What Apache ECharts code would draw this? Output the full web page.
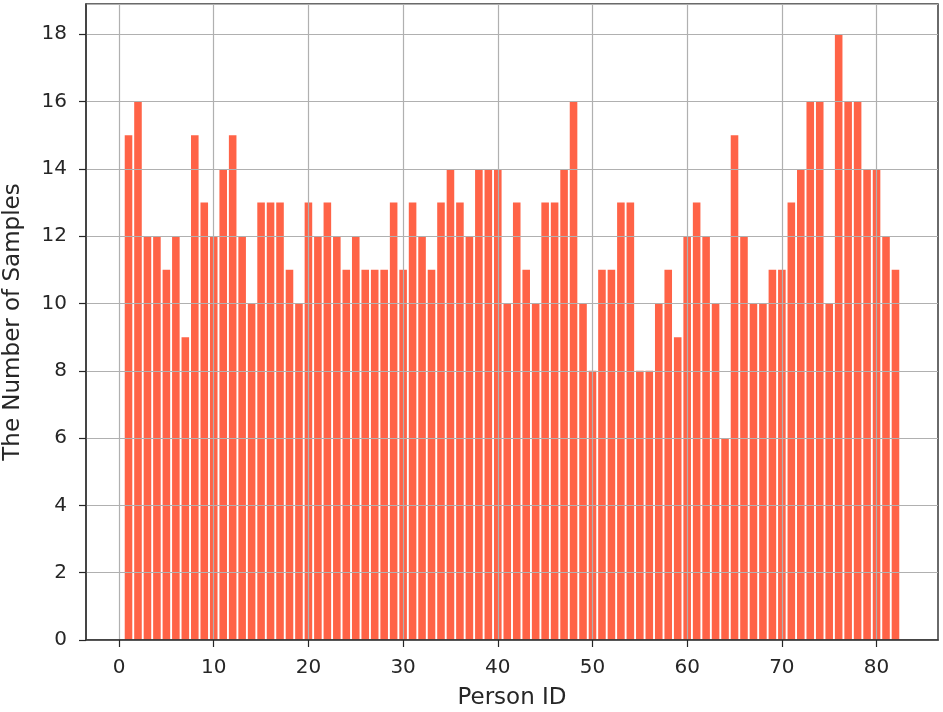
<!DOCTYPE html>
<html>
<head>
<meta charset="utf-8">
<script src="https://cdn.jsdelivr.net/npm/echarts@6/dist/echarts.min.js"></script>
<style>html,body{margin:0;padding:0;background:#fff;}#c{width:943px;height:712px;}</style>
</head>
<body>
<div id="c"></div>
<script>
const personIds = [];
for (let i = 1; i <= 82; i++) personIds.push(i);
const sampleCounts = [15,16,12,12,11,12,9,15,13,12,14,15,12,10,13,13,13,11,10,13,
  12,13,12,11,12,11,11,11,13,11,13,12,11,13,14,13,12,14,14,14,
  10,13,11,10,13,13,14,16,10,8,11,11,13,13,8,8,10,11,9,12,
  13,12,10,6,15,12,10,10,11,11,13,14,16,16,10,18,16,16,14,14,
  12,11];
const xTicks = [0,10,20,30,40,50,60,70,80];

const xMin = -3.49, xMax = 86.49, yMax = 18.9;
const gridL = 86, gridR = 5, gridT = 4, gridB = 72;
const barPx = (943 - gridL - gridR) / (xMax - xMin) * 0.8;

const chart = echarts.init(document.getElementById('c'));
const font = 'DejaVu Sans';
const ink = '#262626';
chart.setOption({
  animation: false,
  backgroundColor: '#fff',
  grid: {left: gridL, right: gridR, top: gridT, bottom: gridB, containLabel: false, outerBoundsMode: 'none', show: true, borderColor: '#3a3a3a', borderWidth: 1.5, backgroundColor: 'transparent', z: 10},
  xAxis: {
    type: 'value', min: xMin, max: xMax, z: 10,
    name: 'Person ID', nameLocation: 'middle', nameGap: 47,
    nameTextStyle: {fontFamily: font, fontSize: 23, color: ink},
    axisLine: {show: true, onZero: false, lineStyle: {color: '#3a3a3a', width: 1.5}},
    axisTick: {show: true, length: 7, customValues: xTicks, lineStyle: {color: ink, width: 1.2}},
    axisLabel: {customValues: xTicks, fontFamily: font, fontSize: 20, color: ink, margin: 18},
    splitLine: {show: false}
  },
  yAxis: {
    type: 'value', min: 0, max: yMax, interval: 2, z: 10,
    name: 'The Number of Samples', nameLocation: 'middle', nameGap: 61,
    nameTextStyle: {fontFamily: font, fontSize: 23, color: ink},
    axisLine: {show: true, onZero: false, lineStyle: {color: '#3a3a3a', width: 1.5}},
    axisTick: {show: true, length: 7, lineStyle: {color: ink, width: 1.2}},
    axisLabel: {fontFamily: font, fontSize: 20, color: ink, margin: 19, showMaxLabel: false},
    splitLine: {show: true, lineStyle: {color: '#b0b0b0', width: 1.2}}
  },
  series: [{
    type: 'bar',
    data: personIds.map((id, i) => [id, sampleCounts[i]]),
    barWidth: barPx,
    itemStyle: {color: '#ff6347'},
    z: 2,
    markLine: {
      silent: true, symbol: 'none', z: 5,
      label: {show: false},
      lineStyle: {color: '#b0b0b0', width: 1.2, type: 'solid'},
      data: xTicks.map(v => ({xAxis: v}))
    }
  }]
});
</script>
</body>
</html>
